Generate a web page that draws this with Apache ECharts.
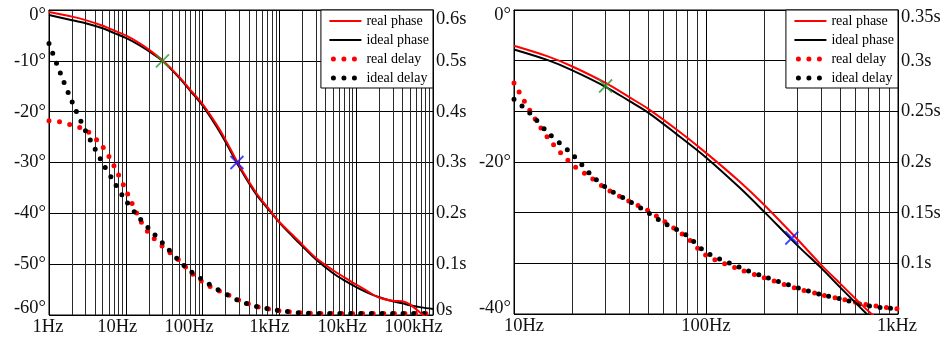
<!DOCTYPE html>
<html>
<head>
<meta charset="utf-8">
<script src="https://cdn.jsdelivr.net/npm/echarts@6/dist/echarts.min.js"></script>
<style>
html,body{margin:0;padding:0;background:#fff;}
#c{width:946px;height:338px;}
</style>
</head>
<body>
<div id="c"></div>
<script>
// ---------- DATA ----------
// Left chart (1 Hz .. 100 kHz)
const leftTickValues = [1, 10, 100, 1000, 10000, 100000];
const leftTickLabels = ['1Hz', '10Hz', '100Hz', '1kHz', '10kHz', '100kHz'];
const leftPhaseFreq = [1,2,3,5,7,10,15,20,30,50,70,100,150,200,300,500,700,1000,1500,2000,3000,5000,7000,10000,15000,20000,30000,40000,50000,70000,100000];
const leftRealPhase = [-0.4,-1.3,-2.0,-3.1,-4.0,-5.0,-6.5,-7.8,-9.9,-13.2,-15.8,-18.5,-22.4,-25.6,-30.6,-36.0,-38.8,-41.7,-44.3,-46.2,-48.8,-51.2,-52.6,-54.0,-55.6,-56.6,-57.2,-57.3,-57.9,-59.7,-61.5];
const leftIdealPhase = [-1.0,-2.0,-2.6,-3.6,-4.5,-5.5,-6.9,-8.1,-10.0,-13.4,-16.0,-18.8,-22.8,-26.0,-30.9,-36.3,-39.0,-41.8,-44.6,-46.5,-49.1,-51.8,-53.2,-54.5,-55.8,-56.5,-57.3,-57.7,-58.1,-58.5,-58.8];
const leftDelayFreq = [1,1.5,2,3,5,7,10,15,20,30,50,70,100,150,200,300,500,700,1000,2000,5000,10000,100000];
const leftRealDelay = [0.382,0.379,0.373,0.364,0.331,0.294,0.246,0.190,0.161,0.135,0.107,0.084,0.065,0.050,0.042,0.029,0.017,0.012,0.0085,0.004,0.003,0.003,0.003];
const leftIdealDelay = [0.534,0.465,0.419,0.362,0.299,0.262,0.225,0.191,0.170,0.142,0.106,0.086,0.069,0.052,0.0415,0.028,0.017,0.0125,0.0087,0.004,0.003,0.003,0.003];

// Right chart (10 Hz .. 1 kHz)
const rightTickValues = [10, 100, 1000];
const rightTickLabels = ['10Hz', '100Hz', '1kHz'];
const rightPhaseFreq = [10,15,20,30,40,50,70,100,150,200,300,400,500,700,1000];
const rightRealPhase = [-4.7,-6.1,-7.4,-9.6,-11.5,-13.0,-15.7,-18.8,-22.6,-25.6,-30.2,-33.6,-36.0,-39.6,-43.0];
const rightIdealPhase = [-5.2,-6.6,-7.9,-10.1,-12.0,-13.5,-16.3,-19.4,-23.4,-26.5,-31.0,-34.0,-36.5,-40.2,-44.0];
const rightDelayFreq = [10,12,15,20,25,30,40,50,60,70,80,100,150,200,300,400,500,700,1000];
const rightRealDelay = [0.278,0.252,0.224,0.198,0.185,0.174,0.161,0.152,0.142,0.133,0.125,0.108,0.094,0.086,0.075,0.069,0.065,0.059,0.055];
const rightIdealDelay = [0.262,0.249,0.229,0.208,0.188,0.175,0.161,0.150,0.140,0.1335,0.127,0.111,0.096,0.087,0.076,0.069,0.065,0.058,0.055];

// Cross markers [freq, phase]
const markerPoints = [[30, -10], [280, -30]];

// ---------- STYLE ----------
const FONT = "'Liberation Serif','Times New Roman',serif";
const TXT = '#111';
const FS = 18.5;
const RED = '#ff0000';
const BLK = '#000000';
const GREEN = '#2e9a2e';
const BLUE = '#1515ff';

function pairs(xs, ys) { return xs.map((x, i) => [x, ys[i]]); }
function rs(pad) { return { padding: pad, fontSize: FS, fontFamily: FONT, color: TXT }; }

const leftXPad = [[0,2,0,0],[0,17,0,0],[0,27,0,0],[0,20,0,0],[0,28,0,0],[0,39,0,0]];
const rightXPad = [[0,0,0,20],[0,0,0,0],[0,2,0,0]];
const leftXRich = {}; leftXPad.forEach((p, i) => leftXRich['x' + i] = rs(p));
const rightXRich = {}; rightXPad.forEach((p, i) => rightXRich['x' + i] = rs(p));
const yRich = { t: rs([10,0,0,0]), b: rs([0,0,14,0]), t2: rs([18,0,0,0]), b2: rs([0,0,10,0]), t3: rs([14,0,0,0]), b3: rs([0,0,12,0]) };

function xAxisCfg(gi, min, max, ticks, labels, rich, base) {
  return {
    type: 'log', logBase: 10, gridIndex: gi, min: min, max: max,
    axisLine: { show: true, lineStyle: { color: '#000', width: 1 } },
    axisTick: { show: false },
    minorTick: { show: false, splitNumber: 9 },
    splitLine: { show: true, lineStyle: { color: '#000', width: 1 } },
    minorSplitLine: { show: true, lineStyle: { color: '#2a2a2a', width: 1 } },
    axisLabel: {
      margin: 3, fontFamily: FONT, fontSize: FS, color: TXT, rich: rich,
      formatter: function (v) {
        const i = Math.round(Math.log10(v)) - base;
        if (i < 0 || i >= labels.length) return '';
        return '{x' + i + '|' + labels[i] + '}';
      }
    }
  };
}

function yAxisCfg(gi, pos, min, max, interval, split, fmt) {
  return {
    type: 'value', gridIndex: gi, position: pos, min: min, max: max, interval: interval,
    axisLine: { show: true, lineStyle: { color: '#000', width: 1 } },
    axisTick: { show: false },
    splitLine: { show: split, lineStyle: { color: '#000', width: 1 } },
    axisLabel: { margin: 3, fontFamily: FONT, fontSize: FS, color: TXT, rich: yRich, formatter: fmt }
  };
}

function phaseSeries(name, xi, yi, data, color, z) {
  return { name: name, type: 'line', xAxisIndex: xi, yAxisIndex: yi, data: data, smooth: 0.3,
    symbol: 'none', showSymbol: false, z: z,
    lineStyle: { color: color, width: 2 }, itemStyle: { color: color } };
}
function delaySeries(name, xi, yi, data, color, z) {
  return { name: name, type: 'line', xAxisIndex: xi, yAxisIndex: yi, data: data, smooth: 0.3,
    symbol: 'none', showSymbol: false, z: z,
    lineStyle: { color: color, width: 5, type: [0, 10.5], cap: 'round' }, itemStyle: { color: color } };
}
function markerSeries(xi, yi) {
  return { type: 'scatter', xAxisIndex: xi, yAxisIndex: yi, z: 10,
    symbol: 'path://M0,0L10,10M10,0L0,10', symbolSize: 13,
    data: markerPoints.map((p, i) => ({ value: p, itemStyle: { color: 'transparent', borderColor: i === 0 ? GREEN : BLUE, borderWidth: 1.8 } })) };
}
function legendCfg(right) {
  return {
    orient: 'vertical', right: right, top: 10, itemWidth: 32, itemHeight: 14, itemGap: 5,
    padding: [4, 4, 3, 6], backgroundColor: '#fff', borderColor: '#000', borderWidth: 1, borderRadius: 0,
    textStyle: { fontFamily: FONT, fontSize: 14, color: '#000' },
    lineStyle: { width: 'inherit' },
    itemStyle: { opacity: 0 },
    z: 20,
    data: [
      { name: 'real phase' },
      { name: 'ideal phase' },
      { name: 'real delay', lineStyle: { dashOffset: -4 } },
      { name: 'ideal delay', lineStyle: { dashOffset: -4 } }
    ]
  };
}

const option = {
  animation: false,
  backgroundColor: '#fff',
  grid: [
    { left: 49, right: 513, top: 10, bottom: 23, show: true, borderColor: '#000', borderWidth: 1 },
    { left: 514, right: 48, top: 10, bottom: 24, show: true, borderColor: '#000', borderWidth: 1 }
  ],
  legend: [legendCfg(513), legendCfg(48)],
  xAxis: [
    xAxisCfg(0, 1, 100000, leftTickValues, leftTickLabels, leftXRich, 0),
    xAxisCfg(1, 10, 1000, rightTickValues, rightTickLabels, rightXRich, 1)
  ],
  yAxis: [
    yAxisCfg(0, 'left', -60, 0, 10, true, function (v) {
      if (v === 0) return '{t|0°}';
      if (v === -60) return '{b|-60°}';
      return v + '°';
    }),
    yAxisCfg(0, 'right', 0, 0.6, 0.1, false, function (v) {
      const s = parseFloat(v.toFixed(2));
      if (s === 0.6) return '{t2|0.6s}';
      if (s === 0) return '{b2|0s}';
      return s + 's';
    }),
    yAxisCfg(1, 'left', -40, 0, 20, false, function (v) {
      if (v === 0) return '{t|0°}';
      if (v === -40) return '{b3|-40°}';
      return v + '°';
    }),
    yAxisCfg(1, 'right', 0.05, 0.35, 0.05, true, function (v) {
      const s = parseFloat(v.toFixed(2));
      if (s < 0.06) return '';
      if (s === 0.35) return '{t3|0.35s}';
      return s + 's';
    })
  ],
  series: [
    delaySeries('real delay', 0, 1, pairs(leftDelayFreq, leftRealDelay), RED, 3),
    delaySeries('ideal delay', 0, 1, pairs(leftDelayFreq, leftIdealDelay), BLK, 3),
    phaseSeries('ideal phase', 0, 0, pairs(leftPhaseFreq, leftIdealPhase), BLK, 4),
    phaseSeries('real phase', 0, 0, pairs(leftPhaseFreq, leftRealPhase), RED, 5),
    markerSeries(0, 0),
    delaySeries('real delay', 1, 3, pairs(rightDelayFreq, rightRealDelay), RED, 3),
    delaySeries('ideal delay', 1, 3, pairs(rightDelayFreq, rightIdealDelay), BLK, 3),
    phaseSeries('ideal phase', 1, 2, pairs(rightPhaseFreq, rightIdealPhase), BLK, 4),
    phaseSeries('real phase', 1, 2, pairs(rightPhaseFreq, rightRealPhase), RED, 5),
    markerSeries(1, 2)
  ]
};

const chart = echarts.init(document.getElementById('c'), null, { renderer: 'canvas' });
chart.setOption(option);
</script>
</body>
</html>
